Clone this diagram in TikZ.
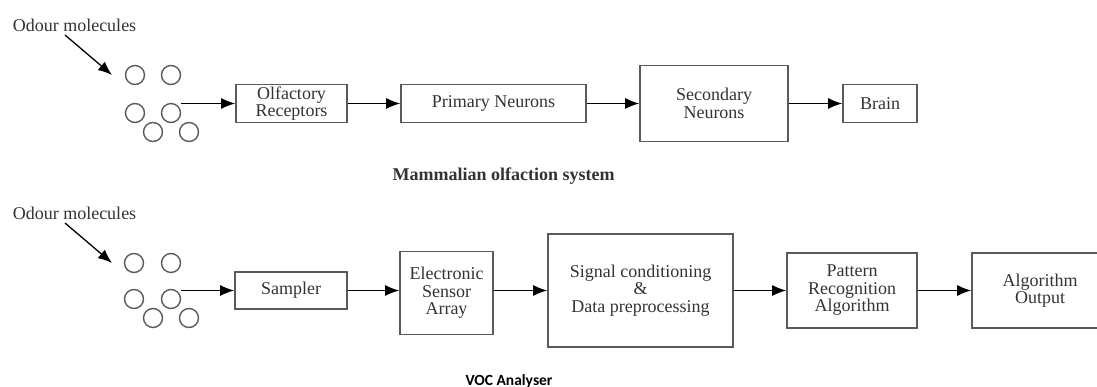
\documentclass[tikz,border=0pt]{standalone}
\usepackage{fontspec}
\setmainfont{Liberation Serif}
\newfontfamily\calib{Carlito}
\usetikzlibrary{arrows.meta}
\definecolor{boxgray}{HTML}{5A5A5A}
\definecolor{txtgray}{HTML}{333333}
\begin{document}
\begin{tikzpicture}[x=1pt,y=-1pt,
  box/.style={draw=boxgray, line width=1.6pt, inner sep=0pt, text=txtgray, align=center,
              font=\fontsize{18}{17.5}\selectfont},
  lbl/.style={inner sep=0pt, text=txtgray, font=\fontsize{18}{17.5}\selectfont},
  mol/.style={circle, draw=boxgray, line width=1.4pt, minimum size=19pt, inner sep=0pt},
  flow/.style={-{Latex[length=14pt,width=11pt]}, line width=1.3pt, black},
]
\useasboundingbox (0,0) rectangle (1097,387);

% ---------- top row ----------
\node[lbl] (od1) at (74.5,25) {Odour molecules};
\coordinate (od1s) at (65,35);
\coordinate (od1e) at (112,75);
\draw[flow] (od1s) -- (od1e);

\node[mol] (a1) at (135,75) {};
\node[mol] (a2) at (171,75) {};
\node[mol] (a3) at (135,113) {};
\node[mol] (a4) at (171,113) {};
\node[mol] (a5) at (153,132) {};
\node[mol] (a6) at (189,132) {};

\node[box, minimum width=111pt, minimum height=38pt] (olf) at (291.5,103.5) {Olfactory\\Receptors};
\node[box, minimum width=185pt, minimum height=38pt] (prim) at (493.5,103.5) {Primary Neurons};
\node[box, minimum width=148pt, minimum height=76pt] (sec) at (714,103.5) {Secondary\\Neurons};
\node[box, minimum width=74pt, minimum height=38pt] (brain) at (880,103.5) {Brain};

\draw[flow] (a4.east |- olf.west) -- (olf.west);
\draw[flow] (olf.east) -- (prim.west);
\draw[flow] (prim.east) -- (sec.west);
\draw[flow] (sec.east) -- (brain.west);

\node[inner sep=0pt, text=txtgray, font=\fontsize{18}{18}\selectfont\bfseries] (t1) at (503.5,176) {Mammalian olfaction system};

% ---------- bottom row ----------
\node[lbl] (od2) at (74.5,213) {Odour molecules};
\coordinate (od2s) at (65,223);
\coordinate (od2e) at (112,263);
\draw[flow] (od2s) -- (od2e);

\node[mol] (b1) at (134,263) {};
\node[mol] (b2) at (171,263) {};
\node[mol] (b3) at (134,299) {};
\node[mol] (b4) at (171,299) {};
\node[mol] (b5) at (153,318) {};
\node[mol] (b6) at (189,318) {};

\coordinate (r2) at (0,290.5);
\node[box, minimum width=112pt, minimum height=37pt] (samp) at (291,290.5) {Sampler};
\node[box, minimum width=93pt, minimum height=83pt] (esa) at (446.5,293) {Electronic\\Sensor\\Array};
\node[box, minimum width=185pt, minimum height=113pt] (sig) at (640.5,290.5) {Signal conditioning\\\&\\Data preprocessing};
\node[box, minimum width=130pt, minimum height=75pt] (pat) at (852,290.5) {Pattern\\Recognition\\Algorithm};
\node[box, minimum width=136pt, minimum height=75pt] (out) at (1040,290.5) {Algorithm\\Output};

\draw[flow] (b4.east |- r2) -- (samp.west |- r2);
\draw[flow] (samp.east |- r2) -- (esa.west |- r2);
\draw[flow] (esa.east |- r2) -- (sig.west |- r2);
\draw[flow] (sig.east |- r2) -- (pat.west |- r2);
\draw[flow] (pat.east |- r2) -- (out.west |- r2);

\node[anchor=base, inner sep=0pt, text=black, font=\calib\fontsize{15.5}{16}\selectfont\bfseries] (t2) at (509,385) {VOC Analyser};
\end{tikzpicture}
\end{document}
